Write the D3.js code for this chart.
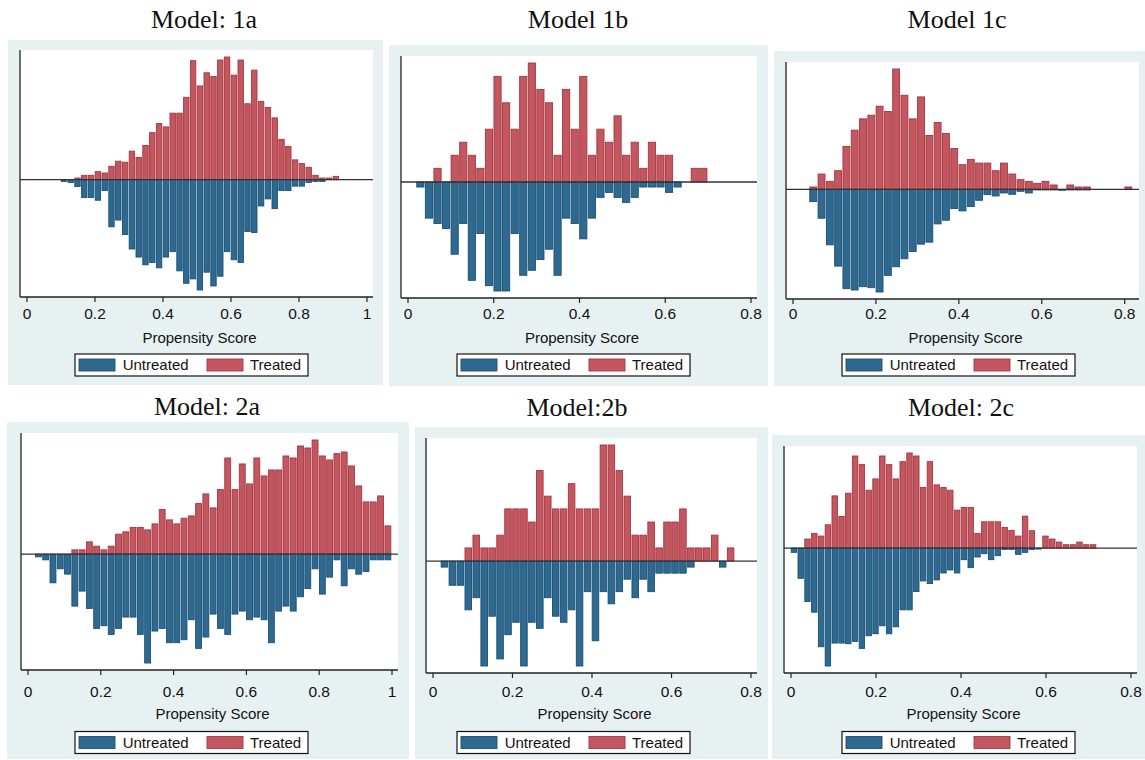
<!DOCTYPE html>
<html>
<head>
<meta charset="utf-8">
<script src="https://cdn.jsdelivr.net/npm/d3@7"></script>
<style>
  body { margin: 0; background: #fff; }
</style>
</head>
<body>
<div id="chart"></div>
<script>
// Mirrored histograms of propensity scores, one array per model and group.
// Each array holds bar heights (density, arbitrary units) for bins starting at 0.
const modelTitles = ["Model: 1a", "Model 1b", "Model 1c", "Model: 2a", "Model:2b", "Model: 2c"];
const binWidths = [0.02, 0.02, 0.02, 0.02, 0.02, 0.016];
const xMaxes = [1, 0.8, 0.82, 1, 0.8, 0.8];
const ticksTo1 = [0, 0.2, 0.4, 0.6, 0.8, 1];
const ticksTo08 = [0, 0.2, 0.4, 0.6, 0.8];
const groupNames = ["Untreated", "Treated"];

const treated1a = [0, 0, 0, 0, 0, 0, 0, 0.05, 0.13, 0.13, 0.24, 0.20, 0.40, 0.55, 0.52, 0.85, 0.66, 1.02, 1.40, 1.67,
  1.57, 1.98, 1.98, 2.45, 3.54, 2.79, 3.18, 3.07, 3.56, 3.65, 3.11, 3.56, 2.26, 3.26, 2.33, 2.15, 1.84, 1.20, 0.99, 0.59,
  0.48, 0.37, 0.13, 0.05, 0.05, 0.10];
const untreated1a = [0, 0, 0, 0, 0, 0.05, 0.08, 0.20, 0.53, 0.53, 0.61, 0.32, 1.40, 1.20, 1.63, 2.06, 2.30, 2.53, 2.46, 2.62,
  2.30, 2.14, 2.71, 3.08, 2.95, 3.28, 2.75, 3.16, 2.87, 2.14, 2.38, 2.46, 1.54, 1.57, 0.78, 0.57, 0.86, 0.32, 0.32, 0.19,
  0.19, 0.08, 0.05, 0.05];

const treated1b = [0, 0, 0, 0.41, 0, 0.80, 1.19, 0.80, 0.41, 1.58, 3.16, 2.37, 1.58, 3.16, 3.56, 2.77, 2.37, 0.80, 2.77, 1.58,
  3.16, 0.80, 1.58, 1.19, 1.98, 0.80, 1.19, 0.41, 1.19, 0.80, 0.80, 0, 0, 0.41, 0.41];
const untreated1b = [0, 0.15, 1.08, 1.24, 1.39, 2.16, 1.24, 2.94, 1.54, 3.10, 3.26, 3.26, 1.54, 2.79, 2.64, 2.32, 2.01, 2.79, 1.08, 1.24,
  1.70, 1.08, 0.46, 0.31, 0.46, 0.61, 0.46, 0.15, 0.15, 0.15, 0.31, 0.15];

const treated1c = [0, 0, 0.07, 0.46, 0.24, 0.56, 1.29, 1.78, 2.12, 2.23, 2.50, 2.34, 3.62, 2.83, 2.12, 2.78, 1.62, 2.01, 1.68, 1.23,
  0.74, 0.90, 0.79, 0.79, 0.56, 0.79, 0.46, 0.29, 0.24, 0.18, 0.24, 0.13, 0, 0.13, 0.07, 0.07, 0, 0, 0, 0, 0.07];
const untreated1c = [0, 0, 0.37, 0.87, 1.67, 2.31, 2.99, 3.03, 2.93, 2.96, 3.09, 2.59, 2.33, 2.09, 1.87, 1.65, 1.59, 1.04, 0.93, 0.58,
  0.65, 0.52, 0.33, 0.16, 0.20, 0.11, 0.15, 0.06, 0.11, 0.02, 0.02, 0.02, 0.03, 0.02, 0.02, 0.02];

const treated2a = [0, 0, 0, 0, 0, 0, 0.13, 0.13, 0.37, 0.24, 0.13, 0.24, 0.60, 0.67, 0.80, 0.80, 0.73, 0.91, 1.34, 1.03,
  0.91, 1.08, 1.15, 1.52, 1.81, 1.39, 1.94, 2.89, 1.94, 2.71, 2.11, 2.89, 2.35, 2.53, 2.53, 2.95, 2.89, 3.25, 3.19, 3.43,
  2.95, 2.83, 3.02, 3.07, 2.65, 2.05, 1.57, 1.57, 1.75, 0.85];
const untreated2a = [0, 0.08, 0.17, 0.86, 0.44, 0.60, 1.56, 1.11, 1.63, 2.23, 2.15, 2.41, 2.23, 1.89, 1.89, 2.41, 3.27, 2.31, 2.23, 2.66,
  2.66, 2.57, 1.97, 2.83, 2.49, 1.80, 2.23, 2.41, 1.80, 1.71, 1.97, 1.89, 1.97, 2.66, 1.71, 1.56, 1.71, 1.28, 1.03, 0.44,
  1.20, 0.69, 0.17, 0.95, 0.44, 0.60, 0.52, 0.17, 0.17, 0.17];

const treated2b = [0, 0, 0, 0, 0.39, 0.77, 0.39, 0.39, 0.77, 1.55, 1.55, 1.55, 1.16, 2.69, 1.93, 1.55, 1.55, 2.30, 1.55, 1.55,
  1.55, 3.45, 3.45, 2.69, 1.93, 0.77, 0.77, 1.16, 0.39, 1.16, 1.16, 1.55, 0.39, 0.39, 0.39, 0.77, 0, 0.39];
const untreated2b = [0, 0.18, 0.72, 0.72, 1.45, 1.09, 3.12, 1.64, 2.91, 2.19, 1.82, 3.12, 1.82, 2.00, 1.09, 1.64, 1.82, 1.45, 3.12, 0.91,
  2.37, 0.91, 1.27, 0.91, 0.54, 1.09, 0.54, 0.91, 0.36, 0.36, 0.36, 0.36, 0.18, 0, 0, 0, 0.18];

const treated2c = [0, 0, 0.27, 0.44, 0.36, 0.70, 1.57, 0.95, 1.65, 2.77, 2.51, 1.74, 2.08, 2.77, 2.51, 2.08, 2.60, 2.86, 2.77, 1.82,
  2.60, 1.90, 1.82, 1.74, 1.14, 1.22, 1.22, 0.44, 0.79, 0.79, 0.79, 0.62, 0.53, 0.36, 0.96, 0.52, 0, 0.36, 0.27, 0.18,
  0.10, 0.10, 0.18, 0.10, 0.10];
const untreated2c = [0.13, 0.91, 1.61, 1.93, 2.97, 3.55, 2.86, 2.86, 2.88, 2.81, 3.02, 2.64, 2.58, 2.34, 2.58, 2.37, 1.86, 1.86, 1.31, 0.99,
  1.07, 0.96, 0.75, 0.66, 0.75, 0.35, 0.59, 0.27, 0.17, 0.35, 0.23, 0.04, 0.04, 0.19, 0.13, 0.04, 0.03];

const treatedSeries = [treated1a, treated1b, treated1c, treated2a, treated2b, treated2c];
const untreatedSeries = [untreated1a, untreated1b, untreated1c, untreated2a, untreated2b, untreated2c];
const tickSets = [ticksTo1, ticksTo08, ticksTo08, ticksTo1, ticksTo08, ticksTo08];

// layout of each sub graph (box = light background, plot = white region)
const layout = [
  { box: [8, 40, 383, 385], plot: [20, 50, 373, 297], titleX: 204, titleY: 28, legendX: 75, row: 0 },
  { box: [389, 45, 768, 386], plot: [401, 56, 757, 298], titleX: 578, titleY: 28, legendX: 457, row: 0 },
  { box: [774, 51, 1145, 386], plot: [786, 62, 1139, 299], titleX: 957, titleY: 28, legendX: 842, row: 0 },
  { box: [7, 422, 409, 759], plot: [21, 433, 398, 670], titleX: 207, titleY: 415, legendX: 75, row: 1 },
  { box: [415, 427, 768, 759], plot: [426, 438, 757, 673], titleX: 577, titleY: 416, legendX: 457, row: 1 },
  { box: [772, 435, 1145, 759], plot: [784, 446, 1137, 673], titleX: 961, titleY: 416, legendX: 842, row: 1 }
];
const rows = [
  { tickY: 314, axisTitleY: 338, legendY: 354 },
  { tickY: 692, axisTitleY: 714, legendY: 731.5 }
];

const blue = { fill: "#2e6a8f", stroke: "#1b4e74" };
const red = { fill: "#c2575f", stroke: "#a8343f" };
const sans = "'Liberation Sans', Arial, Helvetica, sans-serif";

const svg = d3.select("#chart")
  .append("svg")
  .attr("width", 1145)
  .attr("height", 760);

layout.forEach(function (L, i) {
  const g = svg.append("g");
  const [bx0, by0, bx1, by1] = L.box;
  const [px0, py0, px1, py1] = L.plot;
  const bw = binWidths[i];
  const tr = treatedSeries[i];
  const un = untreatedSeries[i];
  const row = rows[L.row];

  g.append("rect")
    .attr("x", bx0).attr("y", by0)
    .attr("width", bx1 - bx0).attr("height", by1 - by0)
    .attr("fill", "#e8f1f2");

  g.append("rect")
    .attr("x", px0).attr("y", py0)
    .attr("width", px1 - px0).attr("height", py1 - py0)
    .attr("fill", "#fff");

  g.append("text")
    .attr("x", L.titleX).attr("y", L.titleY)
    .attr("text-anchor", "middle")
    .style("font-family", "'Liberation Serif', 'Times New Roman', serif")
    .style("font-size", "26px")
    .attr("fill", "#111")
    .text(modelTitles[i]);

  const x = d3.scaleLinear()
    .domain([0, xMaxes[i]])
    .range([px0 + 6.5, px1 - 6.5]);

  const y = d3.scaleLinear()
    .domain([-d3.max(un), d3.max(tr)])
    .range([py1 - 7, py0 + 7]);

  const binPx = x(bw) - x(0);

  // sign +1 draws upward (treated), -1 draws downward (untreated)
  function drawBars(values, sign, col) {
    g.append("g").selectAll("rect")
      .data(values.map((v, k) => ({ k: k, v: v })).filter(d => d.v > 0))
      .enter().append("rect")
      .attr("x", d => x(d.k * bw) + 0.7)
      .attr("width", binPx - 1.4)
      .attr("y", d => Math.min(y(sign * d.v), y(0)))
      .attr("height", d => Math.abs(y(sign * d.v) - y(0)))
      .attr("fill", col.fill)
      .attr("stroke", col.stroke)
      .attr("stroke-width", 0.9);
  }
  drawBars(tr, 1, red);
  drawBars(un, -1, blue);

  // zero line
  g.append("line")
    .attr("x1", px0).attr("x2", px1)
    .attr("y1", y(0)).attr("y2", y(0))
    .attr("stroke", "#333").attr("stroke-width", 1.3);

  // axis lines
  g.append("line")
    .attr("x1", px0).attr("x2", px1)
    .attr("y1", py1).attr("y2", py1)
    .attr("stroke", "#222").attr("stroke-width", 1.3);
  g.append("line")
    .attr("x1", px0).attr("x2", px0)
    .attr("y1", py0).attr("y2", py1)
    .attr("stroke", "#222").attr("stroke-width", 1.3);

  const xAxis = d3.axisBottom(x)
    .tickValues(tickSets[i])
    .tickSize(5)
    .tickSizeOuter(0)
    .tickFormat(d3.format("~g"));

  const ax = g.append("g")
    .attr("transform", "translate(0," + py1 + ")")
    .call(xAxis);
  ax.select(".domain").remove();
  ax.selectAll(".tick line").attr("stroke", "#222").attr("stroke-width", 1.2);
  ax.selectAll(".tick text")
    .attr("y", row.tickY - py1)
    .attr("dy", "0.35em")
    .attr("fill", "#111")
    .style("font-family", sans)
    .style("font-size", "15.5px");

  g.append("text")
    .attr("x", (px0 + px1) / 2 + 3).attr("y", row.axisTitleY)
    .attr("dy", "0.35em")
    .attr("text-anchor", "middle")
    .style("font-family", sans)
    .style("font-size", "15px")
    .attr("fill", "#111")
    .text("Propensity Score");

  // legend
  const lg = g.append("g").attr("transform", "translate(" + L.legendX + "," + row.legendY + ")");
  lg.append("rect")
    .attr("width", 233).attr("height", 22)
    .attr("fill", "#fff").attr("stroke", "#111").attr("stroke-width", 1.2);
  const items = [
    { name: groupNames[0], col: blue, sx: 4, tx: 47.7 },
    { name: groupNames[1], col: red, sx: 132, tx: 175 }
  ];
  items.forEach(function (it) {
    lg.append("rect")
      .attr("x", it.sx).attr("y", 5)
      .attr("width", 36).attr("height", 12)
      .attr("fill", it.col.fill).attr("stroke", it.col.stroke).attr("stroke-width", 0.9);
    lg.append("text")
      .attr("x", it.tx).attr("y", 11)
      .attr("dy", "0.35em")
      .style("font-family", sans)
      .style("font-size", "15px")
      .attr("fill", "#111")
      .text(it.name);
  });
});
</script>
</body>
</html>
